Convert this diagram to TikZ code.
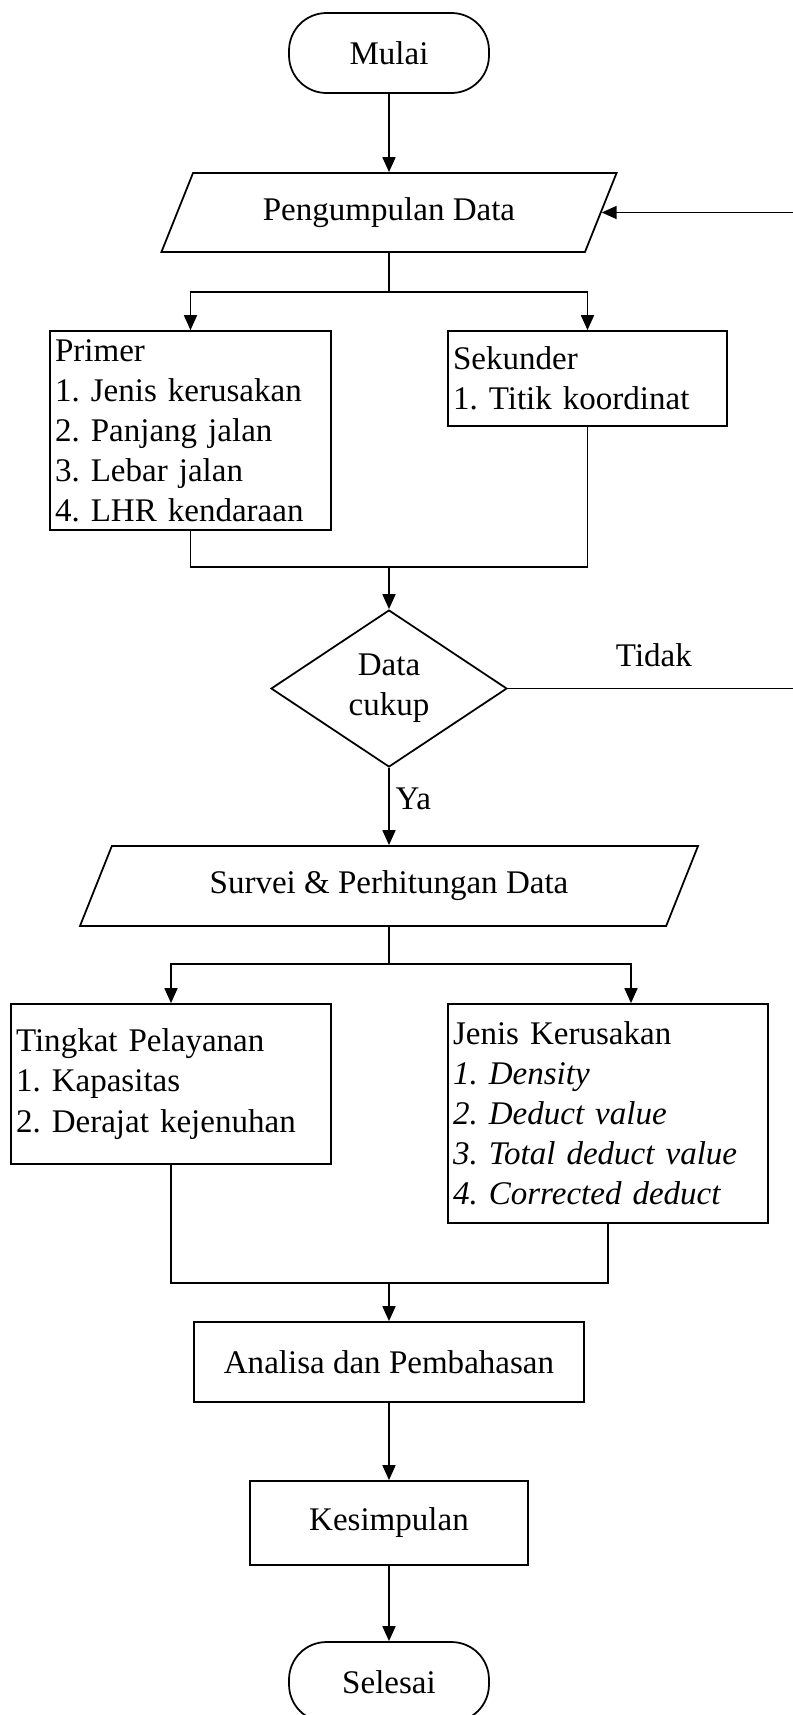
\documentclass[tikz,border=0pt]{standalone}
\usepackage{fontspec}
\setmainfont{Liberation Serif}
\usetikzlibrary{shapes.geometric,arrows.meta}
\frenchspacing

\begin{document}
\begin{tikzpicture}
[   x=0.02cm, y=-0.02cm,
    font=\fontsize{18.8}{22.8}\selectfont,
    line width=1pt,
    tnode/.style={draw,rounded corners=0.75cm,minimum width=4cm,minimum height=1.6cm},
    dnode/.style={draw,trapezium,trapezium left angle=63,trapezium right angle=117,trapezium stretches=true,minimum width=#1,minimum height=1.58cm},
    pnode/.style={draw,minimum width=#1,minimum height=1.6cm},
    lnode/.style={draw,align=left,text width=#1,inner xsep=0.1cm},
    cnode/.style={draw,diamond,aspect=1.5,inner sep=0pt,align=center,minimum width=4.72cm,minimum height=3.14cm},
    arr/.style={-{Triangle[length=0.3cm,width=0.26cm]}},
]
\useasboundingbox (0,0) rectangle (792,1715);

%%%%%%%%%%%%%%%%%%%% START %%%%%%%%%%%%%%%%%%%%%%%%%%%%%%%%%%%
    \node[tnode] (mulai) at (389,53) {Mulai};
    \node[dnode=9.12cm] (data) at (389,212.5) {Pengumpulan Data};
    \draw[arr] (mulai) -- (mulai |- data.north);


%%%%%%%%%%%%%%%%%%%% PRIMER / SEKUNDER %%%%%%%%%%%%%%%%%%%%%%%%%%%%%%%%%%%
    \node[lnode=5.42cm,minimum height=3.98cm] (primer) at (190.5,430.5)
        {Primer\\1. Jenis kerusakan\\2. Panjang jalan\\3. Lebar jalan\\4. LHR kendaraan};
    \node[lnode=5.38cm,minimum height=1.9cm] (sekunder) at (587.5,378.5)
        {Sekunder\\1. Titik koordinat};
    \coordinate (s1) at (389,292);
    \draw (s1 |- data.south) -- (s1);
    \draw[arr] (s1) -| (primer.north);
    \draw[arr] (s1) -| (sekunder.north);


%%%%%%%%%%%%%%%%%%%% CEK DATA %%%%%%%%%%%%%%%%%%%%%%%%%%%%%%%%%%%
    \node[cnode] (cek) at (389,688.5) {Data\\cukup};
    \coordinate (j1) at (389,567);
    \coordinate (back) at (800,688.5);
    \draw (primer.south) |- (j1);
    \draw (sekunder.south) |- (j1);
    \draw[arr] (j1) -- (cek);
    \draw[arr] (cek.east) -- node[above=0.3cm] {Tidak} (back) |- (data.right side);


%%%%%%%%%%%%%%%%%%%% SURVEI %%%%%%%%%%%%%%%%%%%%%%%%%%%%%%%%%%%
    \node[dnode=12.4cm,minimum height=1.6cm] (survei) at (389,886) {Survei \& Perhitungan Data};
    \draw[arr] (cek) -- node[right,pos=0.4] {Ya} (cek |- survei.north);

    \node[lnode=6.2cm,minimum height=3.2cm] (tingkat) at (171,1084)
        {Tingkat Pelayanan\\1. Kapasitas\\2. Derajat kejenuhan};
    \node[lnode=6.2cm,minimum height=4.38cm] (jenis) at (608,1113.5)
        {Jenis Kerusakan\\\textit{1. Density}\\\textit{2. Deduct value}\\\textit{3. Total deduct value}\\\textit{4. Corrected deduct}};
    \coordinate (s2) at (389,964);
    \draw (s2 |- survei.south) -- (s2);
    \draw[arr] (s2) -| (tingkat.north);
    \draw[arr] (s2) -| ([xshift=0.46cm]jenis.north);


%%%%%%%%%%%%%%%%%%%% FINISH %%%%%%%%%%%%%%%%%%%%%%%%%%%%%%%%%%%
    \node[pnode=7.8cm] (analisa) at (389,1362) {Analisa dan Pembahasan};
    \node[pnode=5.56cm,minimum height=1.68cm] (simpul) at (389,1523) {Kesimpulan};
    \node[tnode] (selesai) at (389,1682) {Selesai};
    \coordinate (j2) at (389,1283);
    \draw (tingkat.south) |- (j2);
    \draw (jenis.south) |- (j2);
    \draw[arr] (j2) -- (analisa);
    \draw[arr] (analisa) -- (simpul);
    \draw[arr] (simpul) -- (selesai);

\end{tikzpicture}
\end{document}
